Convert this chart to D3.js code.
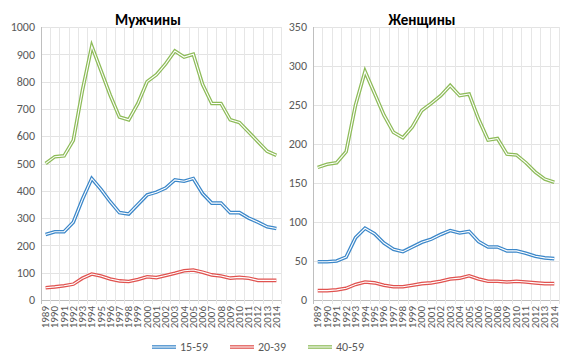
<!DOCTYPE html>
<html><head><meta charset="utf-8">
<script src="https://cdn.jsdelivr.net/npm/d3@7"></script>
<style>body{margin:0;background:#fff}svg{display:block;font-family:Calibri,"Liberation Sans","Open Sans",sans-serif}</style>
</head><body><svg id="c" width="562" height="359"></svg>
<script>
const years = ["1989","1990","1991","1992","1993","1994","1995","1996","1997","1998","1999","2000","2001","2002","2003","2004","2005","2006","2007","2008","2009","2010","2011","2012","2013","2014"];
const seriesNames = ["15-59","20-39","40-59"];
const colors = ["#3b87c9","#e0524f","#8dbb58"];
const men1559 = [240,250,250,285,370,445,405,360,320,315,350,385,395,410,440,435,445,390,355,355,320,320,300,285,268,262];
const men2039 = [45,48,52,58,80,95,88,77,70,68,75,85,82,90,98,107,110,102,92,88,80,83,80,72,72,72];
const men4059 = [500,525,528,585,770,930,840,750,670,660,720,800,825,865,912,890,900,790,720,720,660,650,615,580,545,530];
const wom1559 = [49,49,50,55,80,92,85,73,65,62,68,74,78,84,89,86,88,75,68,68,63,63,60,56,54,53];
const wom2039 = [12,12,13,15,20,23,22,19,17,17,19,21,22,24,27,28,31,27,24,24,23,24,23,22,21,21];
const wom4059 = [170,174,176,190,250,293,265,237,215,208,222,243,252,262,275,262,264,232,205,207,187,186,176,164,155,151];
const menTicks = [0,100,200,300,400,500,600,700,800,900,1000];
const womTicks = [0,50,100,150,200,250,300,350];

const svg = d3.select("#c");

function panel(title, x0, x1, yMax, ticks, data, titleX) {
  const yTop = 27, yBot = 300;
  const x = d3.scaleBand().domain(years).range([x0, x1]);
  const y = d3.scaleLinear().domain([0, yMax]).range([yBot, yTop]);
  const g = svg.append("g");
  // horizontal grid
  g.selectAll(".hg").data(ticks).join("line")
    .attr("x1", x0).attr("x2", x1)
    .attr("y1", d => Math.round(y(d)) + 0.5).attr("y2", d => Math.round(y(d)) + 0.5)
    .attr("stroke", d => d === 0 ? "#bfbfbf" : "#e3e3e3").attr("stroke-width", 1);
  // vertical grid at band boundaries
  const bounds = years.map(d => x(d)).concat([x1]);
  g.selectAll(".vg").data(bounds).join("line")
    .attr("x1", d => Math.round(d) + 0.5).attr("x2", d => Math.round(d) + 0.5)
    .attr("y1", yTop).attr("y2", yBot + 4)
    .attr("stroke", (d, i) => i === 0 ? "#bfbfbf" : "#e6e6e6")
    .attr("y2", (d) => yBot + 4);
  // y tick labels
  g.selectAll(".yl").data(ticks).join("text")
    .attr("x", x0 - 6).attr("y", d => y(d)).attr("dy", "0.35em")
    .attr("text-anchor", "end").attr("font-size", 12).attr("fill", "#595959")
    .text(d => d);
  // x labels rotated
  g.selectAll(".xl").data(years).join("text")
    .attr("transform", d => `translate(${x(d) + x.bandwidth()/2 + 3.5},${yBot + 6}) rotate(-90)`)
    .attr("text-anchor", "end").attr("font-size", 11).attr("fill", "#595959")
    .text(d => d);
  // title
  g.append("text").attr("x", titleX).attr("y", 25).attr("text-anchor", "middle")
    .attr("font-size", 15).attr("font-weight", "bold").attr("fill", "#000").text(title);
  const line = d3.line().x((d, i) => x(years[i]) + x.bandwidth()/2).y(d => y(d));
  data.forEach((s, k) => {
    g.append("path").attr("d", line(s)).attr("fill", "none")
      .attr("stroke", colors[k]).attr("stroke-width", 3.6).attr("stroke-linejoin", "miter");
    g.append("path").attr("d", line(s)).attr("fill", "none")
      .attr("stroke", "#fff").attr("stroke-width", 1.1).attr("stroke-linejoin", "miter");
  });
}

panel("Мужчины", 41, 281, 1000, menTicks, [men1559, men2039, men4059], 148);
panel("Женщины", 313, 559, 350, womTicks, [wom1559, wom2039, wom4059], 422);

// legend
const legX = [152, 230, 308];
seriesNames.forEach((n, k) => {
  const lg = svg.append("g");
  lg.append("line").attr("x1", legX[k]).attr("x2", legX[k] + 24).attr("y1", 347).attr("y2", 347)
    .attr("stroke", colors[k]).attr("stroke-width", 3.6);
  lg.append("line").attr("x1", legX[k]).attr("x2", legX[k] + 24).attr("y1", 347).attr("y2", 347)
    .attr("stroke", "#fff").attr("stroke-width", 1.1);
  lg.append("text").attr("x", legX[k] + 28).attr("y", 347).attr("dy", "0.35em")
    .attr("font-size", 12).attr("fill", "#595959").text(n);
});
</script></body></html>
